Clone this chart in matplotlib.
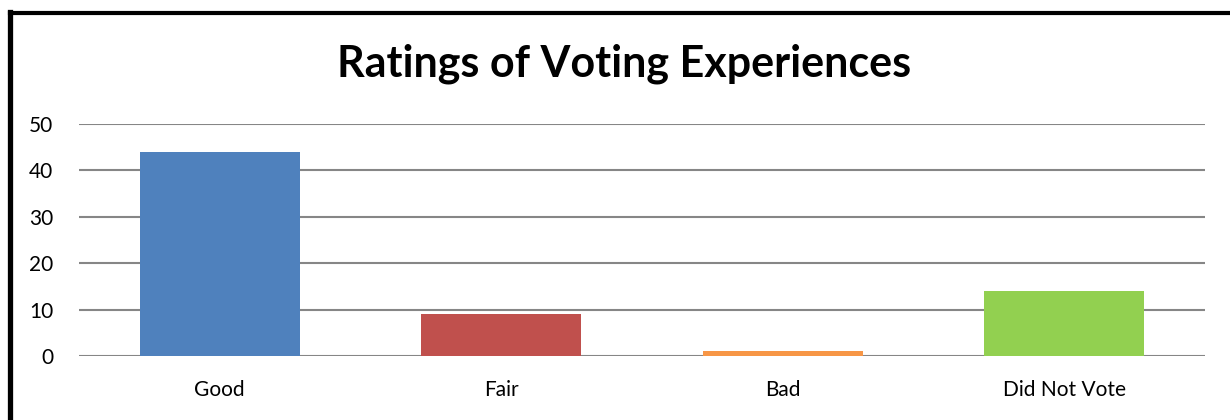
import matplotlib.pyplot as plt
from matplotlib.lines import Line2D

categories = ["Good", "Fair", "Bad", "Did Not Vote"]
ratings = [44, 9, 1, 14]
bar_colors = ["#4F81BD", "#C0504D", "#F79646", "#92D050"]
y_ticks = [0, 10, 20, 30, 40, 50]

plt.rcParams['font.family'] = ['Lato', 'DejaVu Sans']

fig = plt.figure(figsize=(12.3, 4.2), dpi=100)
ax = fig.add_axes([79 / 1230, 1 - 356 / 420, (1205 - 79) / 1230, (356 - 124) / 420])

ax.bar(range(len(categories)), ratings, width=0.57, color=bar_colors, zorder=3)
ax.set_xlim(-0.5, len(categories) - 0.5)
ax.set_ylim(0, 50)
ax.set_yticks(y_ticks)
ax.set_xticks(range(len(categories)))
ax.set_xticklabels(categories)

# gray horizontal gridlines, no frame
ax.grid(axis='y', color='#868686', linewidth=1.5, zorder=0)
for s in ax.spines.values():
    s.set_visible(False)
ax.tick_params(length=0, labelsize=15, colors='black')
ax.tick_params(axis='y', pad=18.5)
ax.tick_params(axis='x', pad=17)

fig.text(624.5 / 1230, 1 - 76 / 420, "Ratings of Voting Experiences", ha='center', va='baseline',
         fontsize=31, fontweight='bold')

# black border (left and top edges visible)
fig.add_artist(Line2D([9.5 / 1230, 9.5 / 1230], [0, 1 - 12 / 420], color='black',
                      linewidth=3.8, transform=fig.transFigure, solid_capstyle='projecting'))
fig.add_artist(Line2D([9.5 / 1230, 1], [1 - 12.5 / 420, 1 - 12.5 / 420], color='black',
                      linewidth=3, transform=fig.transFigure, solid_capstyle='projecting'))

fig.savefig("out.png", dpi=100)
